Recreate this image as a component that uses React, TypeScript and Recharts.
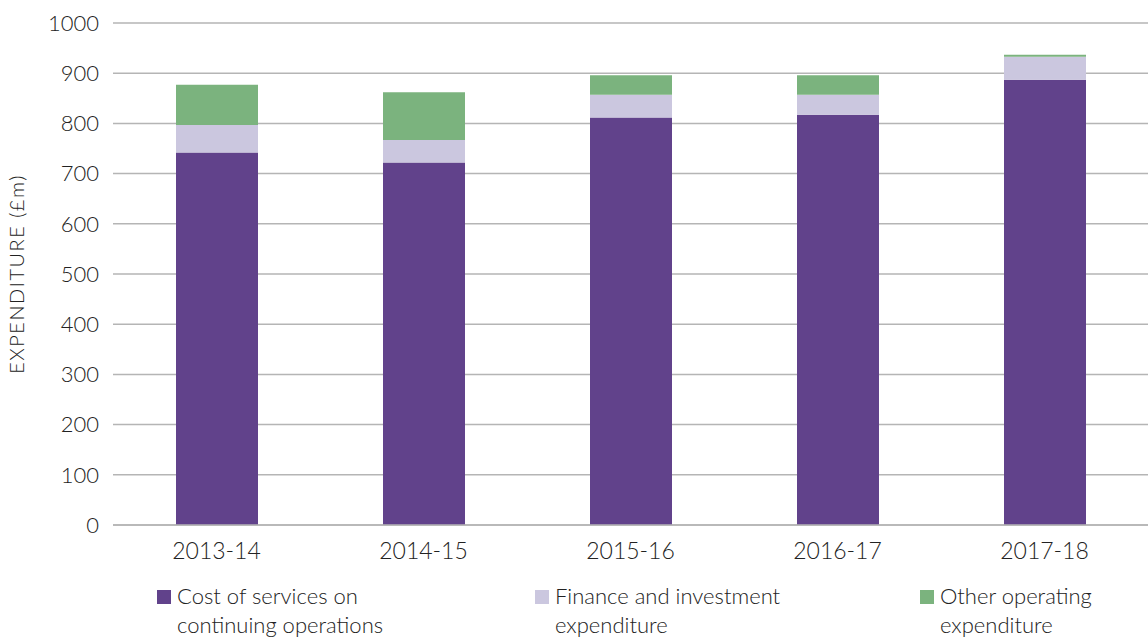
import React from 'react';
import { BarChart, Bar, XAxis, YAxis, CartesianGrid } from 'recharts';

const categories = ['2013-14', '2014-15', '2015-16', '2016-17', '2017-18'];
const costOfServices = [742, 722, 812, 817, 887];
const financeInvestment = [55, 45, 45, 40, 46];
const otherOperating = [80, 95, 39, 39, 4];
const yTicks = [0, 100, 200, 300, 400, 500, 600, 700, 800, 900, 1000];

const seriesInfo = [
  { key: 'cost', lines: ['Cost of services on', 'continuing operations'], color: '#61428B', left: 157 },
  { key: 'finance', lines: ['Finance and investment', 'expenditure'], color: '#CBC7DF', left: 535 },
  { key: 'other', lines: ['Other operating', 'expenditure'], color: '#7BB37E', left: 920 },
];

const data = categories.map((c, i) => ({
  name: c,
  cost: costOfServices[i],
  finance: financeInvestment[i],
  other: otherOperating[i],
}));

const FONT = 'Lato, "DejaVu Sans", sans-serif';

const LegendBlock = () => (
  <div style={{ position: 'absolute', left: 0, top: 581, width: 1148, height: 58, fontFamily: FONT, fontWeight: 300, fontSize: 22, color: '#222' }}>
    {seriesInfo.map((s) => (
      <div key={s.key} style={{ position: 'absolute', left: s.left, top: 0, display: 'flex', alignItems: 'flex-start' }}>
        <div style={{ width: 14, height: 14, background: s.color, marginTop: 9, marginRight: 6 }} />
        <div style={{ lineHeight: '29px', whiteSpace: 'nowrap' }}>
          {s.lines.map((l) => (
            <div key={l}>{l}</div>
          ))}
        </div>
      </div>
    ))}
  </div>
);

export default function App() {
  return (
    <div style={{ position: 'absolute', left: 0, top: 0, width: 1148, height: 639, background: '#fff' }}>
      <BarChart
        width={1148}
        height={639}
        data={data}
        margin={{ top: 23, right: 0, bottom: 64, left: 0 }}
      >
        <CartesianGrid vertical={false} stroke="#B5B5B5" strokeWidth={1.5} />
        <XAxis
          dataKey="name"
          tickLine={false}
          axisLine={{ stroke: '#B5B5B5', strokeWidth: 1.5 }}
          tick={{ fontFamily: FONT, fontWeight: 300, fontSize: 23, fill: '#222' }}
          tickMargin={12}
          height={50}
        />
        <YAxis
          domain={[0, 1000]}
          ticks={yTicks}
          interval={0}
          width={113}
          tickLine={false}
          axisLine={false}
          tick={{ fontFamily: FONT, fontWeight: 300, fontSize: 22, fill: '#222' }}
          tickMargin={8}
          label={{
            value: 'EXPENDITURE (£m)',
            angle: -90,
            position: 'insideLeft',
            dx: 12,
            dy: 0,
            style: { fontFamily: FONT, fontWeight: 300, fontSize: 20, letterSpacing: 1.5, fill: '#222', textAnchor: 'middle' },
          }}
        />
        <Bar dataKey="cost" stackId="a" fill="#61428B" barSize={82} isAnimationActive={false} />
        <Bar dataKey="finance" stackId="a" fill="#CBC7DF" barSize={82} isAnimationActive={false} />
        <Bar dataKey="other" stackId="a" fill="#7BB37E" barSize={82} isAnimationActive={false} />
      </BarChart>
      <LegendBlock />
    </div>
  );
}
